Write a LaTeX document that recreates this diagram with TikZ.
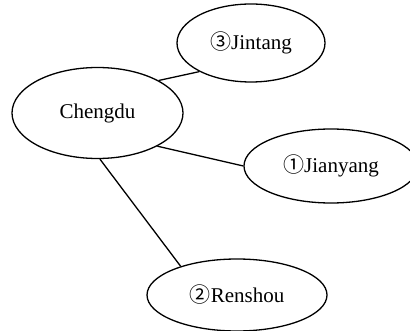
\documentclass[tikz,border=0pt]{standalone}
\usepackage{fontspec}
\setmainfont{Liberation Serif}
\newfontfamily\circfont{Noto Sans CJK SC}
\usetikzlibrary{shapes.geometric}
\tikzset{
  city/.style={draw, ellipse, line width=1.3pt, inner sep=0pt,
    font=\fontsize{21}{24}\selectfont},
  road/.style={line width=1.3pt}
}
\begin{document}
\begin{tikzpicture}[x=1pt,y=-1pt]
\useasboundingbox (0,0) rectangle (410,331);
\node[city, minimum width=171pt, minimum height=91pt] (cd) at (97.5,113) {Chengdu};
\node[city, minimum width=148pt, minimum height=78pt] (jt) at (251,43) {{\circfont ③}Jintang};
\node[city, minimum width=174pt, minimum height=74pt] (jy) at (331,166) {{\circfont ①}Jianyang};
\node[city, minimum width=180pt, minimum height=72pt] (rs) at (237,295) {{\circfont ②}Renshou};
\draw[road] (cd.28) -- (jt.209);
\draw[road] (cd.-29) -- (jy.180);
\draw[road] (cd.-87) -- (rs.153);
\end{tikzpicture}
\end{document}
